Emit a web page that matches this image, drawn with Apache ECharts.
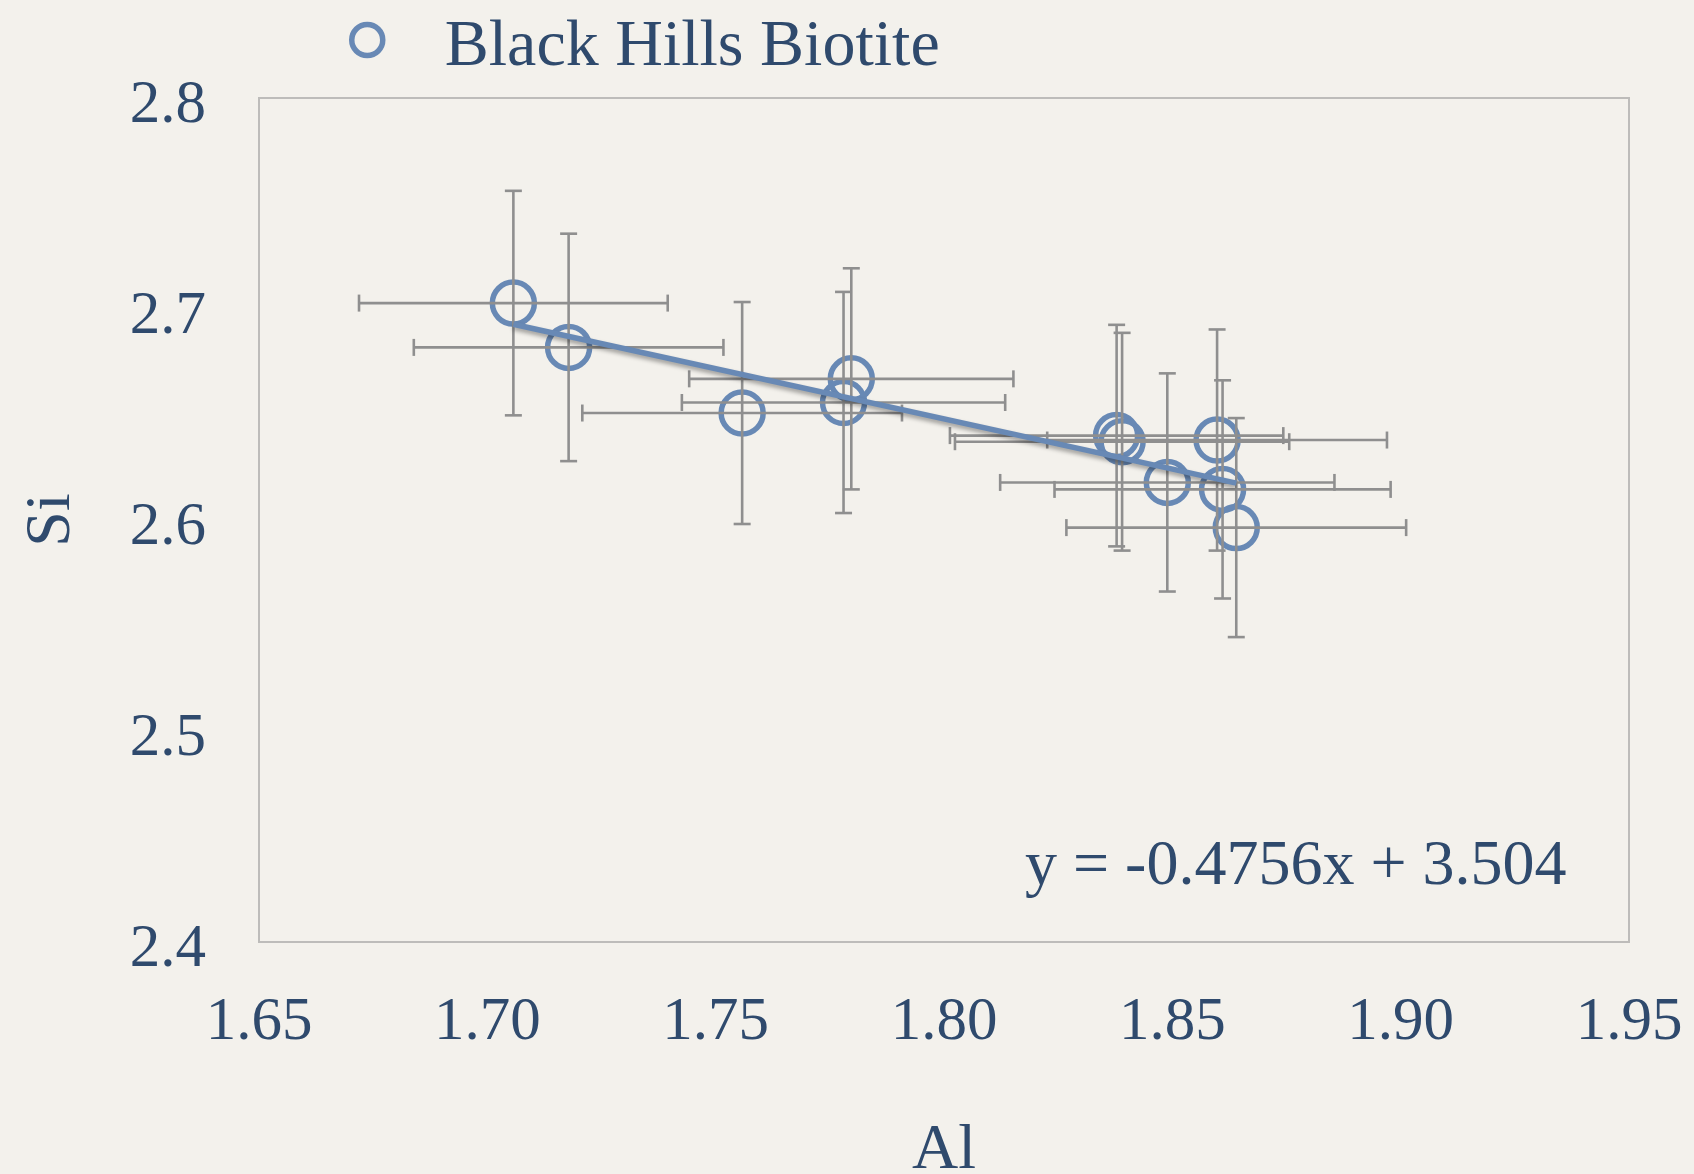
<!DOCTYPE html>
<html>
<head>
<meta charset="utf-8">
<script src="https://cdn.jsdelivr.net/npm/echarts@6/dist/echarts.min.js"></script>
<style>
html,body{margin:0;padding:0;background:#f3f1ec;}
#chart{width:1694px;height:1174px;}
</style>
</head>
<body>
<div id="chart"></div>
<script>
const seriesName = 'Black Hills Biotite';
const alValues = [1.7057, 1.7178, 1.7558, 1.7797, 1.7780, 1.8378, 1.8390, 1.8598, 1.8489, 1.8610, 1.8640];
const siValues = [2.7028, 2.6818, 2.6507, 2.6669, 2.6557, 2.6400, 2.6371, 2.6379, 2.6178, 2.6145, 2.5964];
const alErr    = [0.0338, 0.0339, 0.0350, 0.0355, 0.0354, 0.0365, 0.0366, 0.0372, 0.0366, 0.0368, 0.0372];
const siErr    = [0.0532, 0.0539, 0.0526, 0.0524, 0.0524, 0.0525, 0.0516, 0.0524, 0.0517, 0.0517, 0.0519];
const xTickLabels = ['1.65', '1.70', '1.75', '1.80', '1.85', '1.90', '1.95'];
const yTickLabels = ['2.4', '2.5', '2.6', '2.7', '2.8'];
const trendSlope = -0.4756;
const trendIntercept = 3.504;
const equationText = 'y = -0.4756x + 3.504';

const FONT = '"Liberation Serif", "DejaVu Serif", serif';
const TEXT = '#2f4a6d';
const BLUE = '#6889b5';
const GRAY = '#8f8f8f';

const points = alValues.map((x, i) => [x, siValues[i]]);
const errData = alValues.map((x, i) => [x, siValues[i], alErr[i], siErr[i]]);
const xMin = Math.min(...alValues), xMax = Math.max(...alValues);
const trendData = [[xMin, trendSlope * xMin + trendIntercept], [xMax, trendSlope * xMax + trendIntercept]];

const chart = echarts.init(document.getElementById('chart'));
const CAP = 8.5;
chart.setOption({
  backgroundColor: '#f3f1ec',
  animation: false,
  grid: {left: 259, right: 65, top: 98, bottom: 232, show: true, borderColor: '#bdbcba', borderWidth: 2,
    backgroundColor: 'transparent', containLabel: false, outerBoundsMode: 'none'},
  legend: {
    left: 349, top: 15, padding: 0,
    itemWidth: 31, itemHeight: 31,
    data: [{name: seriesName, icon: 'circle'}],
    itemStyle: {color: 'transparent', borderColor: BLUE, borderWidth: 5.5},
    formatter: name => '{t|' + name + '}',
    textStyle: {fontFamily: FONT, fontSize: 66, color: TEXT,
      rich: {t: {fontFamily: FONT, fontSize: 66, color: TEXT, padding: [16, 0, 0, 57]}}}
  },
  xAxis: {
    type: 'value', min: 1.65, max: 1.95, interval: 0.05,
    name: 'Al', nameLocation: 'middle', nameGap: 177,
    nameTextStyle: {fontFamily: FONT, fontSize: 64, color: TEXT},
    axisLine: {show: false}, axisTick: {show: false}, splitLine: {show: false},
    axisLabel: {fontFamily: FONT, fontSize: 61, color: TEXT, margin: 50,
      formatter: v => xTickLabels[Math.round((v - 1.65) / 0.05)] ?? v.toFixed(2)}
  },
  yAxis: {
    type: 'value', min: 2.4, max: 2.8, interval: 0.1,
    name: 'Si', nameLocation: 'middle', nameGap: 175, nameRotate: 90,
    nameTextStyle: {fontFamily: FONT, fontSize: 64, color: TEXT},
    axisLine: {show: false}, axisTick: {show: false}, splitLine: {show: false},
    axisLabel: {fontFamily: FONT, fontSize: 61, color: TEXT, margin: 53,
      formatter: v => '{v|' + (yTickLabels[Math.round((v - 2.4) / 0.1)] ?? v.toFixed(1)) + '}',
      rich: {v: {fontFamily: FONT, fontSize: 61, color: TEXT, padding: [16, 0, 0, 0]}}}
  },
  graphic: [{
    type: 'text', x: 1025, y: 867, z: 100,
    style: {text: equationText, font: '64px ' + FONT, fill: TEXT, verticalAlign: 'middle', align: 'left'}
  }],
  series: [
    {
      name: seriesName, type: 'scatter', data: points, symbol: 'circle', symbolSize: 42, z: 2,
      itemStyle: {color: 'rgba(0,0,0,0)', borderColor: BLUE, borderWidth: 5.5, opacity: 1},
      emphasis: {disabled: true}
    },
    {
      name: 'errors', type: 'custom', data: errData, z: 3, silent: true,
      renderItem: function (params, api) {
        const x = api.value(0), y = api.value(1), ex = api.value(2), ey = api.value(3);
        const l = api.coord([x - ex, y]), r = api.coord([x + ex, y]);
        const t = api.coord([x, y + ey]), b = api.coord([x, y - ey]);
        const st = {stroke: GRAY, lineWidth: 2.6, fill: null};
        return {type: 'group', children: [
          {type: 'line', shape: {x1: l[0], y1: l[1], x2: r[0], y2: r[1]}, style: st},
          {type: 'line', shape: {x1: l[0], y1: l[1] - CAP, x2: l[0], y2: l[1] + CAP}, style: st},
          {type: 'line', shape: {x1: r[0], y1: r[1] - CAP, x2: r[0], y2: r[1] + CAP}, style: st},
          {type: 'line', shape: {x1: t[0], y1: t[1], x2: b[0], y2: b[1]}, style: st},
          {type: 'line', shape: {x1: t[0] - CAP, y1: t[1], x2: t[0] + CAP, y2: t[1]}, style: st},
          {type: 'line', shape: {x1: b[0] - CAP, y1: b[1], x2: b[0] + CAP, y2: b[1]}, style: st}
        ]};
      }
    },
    {
      name: 'trend', type: 'line', data: trendData, z: 4, showSymbol: false, silent: true,
      lineStyle: {color: BLUE, width: 5.5, shadowColor: 'rgba(0,0,0,0.35)', shadowBlur: 4, shadowOffsetY: 3},
      emphasis: {disabled: true}
    }
  ]
});
</script>
</body>
</html>
